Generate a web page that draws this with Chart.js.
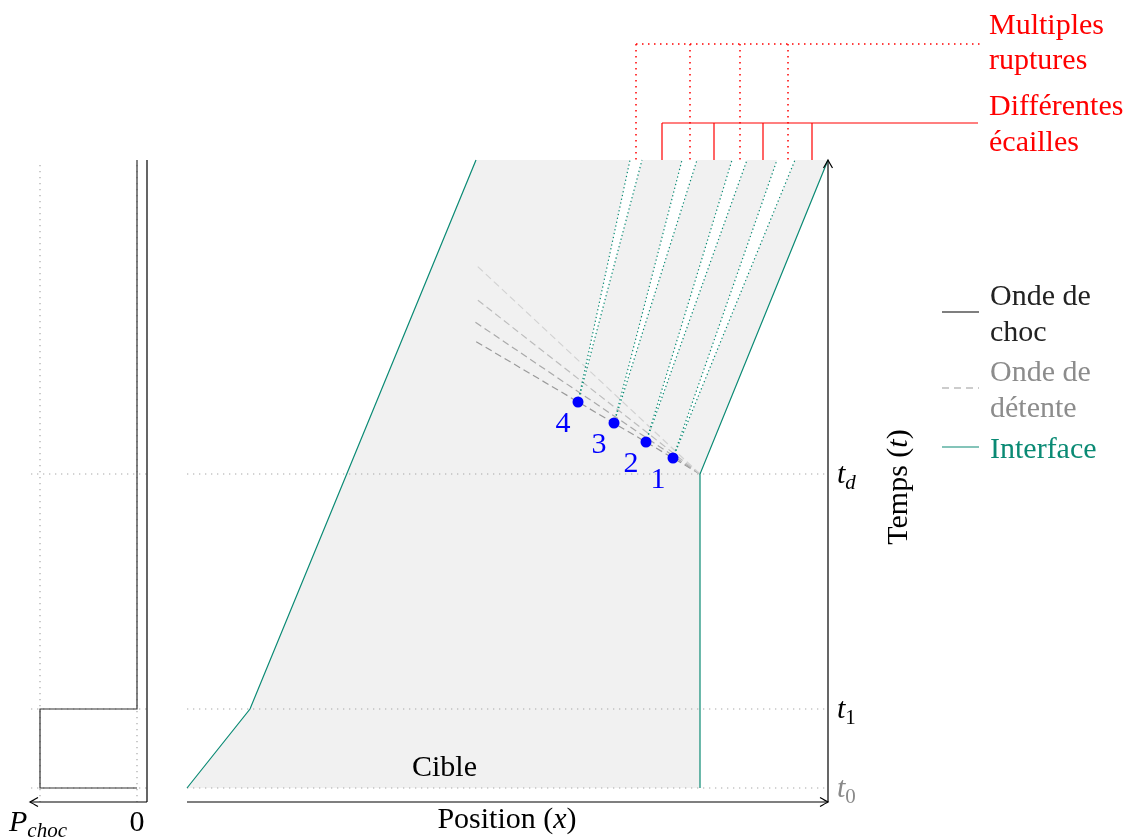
<!DOCTYPE html>
<html>
<head>
<meta charset="utf-8">
<script src="https://cdn.jsdelivr.net/npm/chart.js@4.4.1/dist/chart.umd.min.js"></script>
<style>
  html, body { margin: 0; padding: 0; background: #fff; }
  #wrap { width: 1138px; height: 839px; }
</style>
</head>
<body>
<div id="wrap"><canvas id="chart" width="1138" height="839"></canvas></div>
<script>
// temps : t0, t1, td et haut du diagramme
const tLevels = [0, 7.9, 31.4];
const tNames = ['0', '1', 'd'];
const tTop = 62.8;
const tAxis = -1.4;

// cible (bords gauche et droit)
const leftX = [0, 6.3, 28.9];
const leftT = [0, 7.9, 62.8];
const rightX = [51.3, 51.3, 64.1];
const rightT = [0, 31.4, 62.8];

// profil de pression (panneau de gauche)
const pressX = [-5.0, -5.0, -14.7, -14.7, -5.0];
const pressT = [62.8, 7.9, 7.9, 0, 0];
const pAxisX = -4.0;
const pArrowX = -15.7;

// points de rupture 1..4
const spallNames = ['1', '2', '3', '4'];
const spallX = [48.6, 45.9, 42.7, 39.1];
const spallT = [33.0, 34.6, 36.5, 38.6];

// ondes de detente (depuis le coin td)
const releaseX0 = 51.3, releaseT0 = 31.4, releaseX1 = 28.8;
const releaseT1 = [52.4, 49.0, 46.6, 44.7];
const releaseColors = ['#d2d2d2', '#bdbdbd', '#a9a9a9', '#9a9a9a'];

// fissures : bords au sommet
const crackLeftX = [59.0, 54.5, 49.5, 44.3];
const crackRightX = [60.8, 56.0, 51.0, 45.5];

// reperes rouges
const ruptureX = [44.9, 50.3, 55.3, 60.1];
const ruptureT = 74.4, ruptureEndX = 79.4;
const scaleX = [47.5, 52.7, 57.6, 62.5];
const scaleT = 66.5, scaleEndX = 79.1;

const TEAL = '#0a8a74';
const GRID = '#a8a8a8';
const RED = '#ff0000';
const BLUE = '#0000ff';

const datasets = [];
function line(xs, ts, opts) {
  datasets.push(Object.assign({
    data: xs.map((x, i) => ({ x: x, y: ts[i] })),
    showLine: true, pointRadius: 0, borderWidth: 1.2,
    borderColor: '#000', fill: false, order: 1
  }, opts));
}

// fond gris de la cible, avec les fissures decoupees dans le haut
const polyX = [...leftX], polyT = [...leftT];
for (let i = spallX.length - 1; i >= 0; i--) {
  polyX.push(crackLeftX[i], spallX[i], crackRightX[i]);
  polyT.push(tTop, spallT[i], tTop);
}
polyX.push(...rightX.slice().reverse());
polyT.push(...rightT.slice().reverse());
line(polyX, polyT, { fill: 'shape', backgroundColor: '#f1f1f1', borderColor: 'rgba(0,0,0,0)', order: 10 });

// grille pointillee
tLevels.forEach(t => {
  line([pArrowX + 0.1, pAxisX], [t, t], { borderColor: GRID, borderDash: [1.3, 4.7], order: 5 });
  line([0, rightX[2]], [t, t], { borderColor: GRID, borderDash: [1.3, 4.7], order: 5 });
});
[pressX[2], pressX[0]].forEach(x => {
  line([x, x], [tTop - 0.5, tAxis], { borderColor: GRID, borderDash: [1.3, 4.7], order: 5 });
});

// bords de fissures (interfaces)
spallX.forEach((x, i) => {
  line([x, crackLeftX[i]], [spallT[i], tTop], { borderColor: TEAL, borderDash: [1.3, 2.6], order: 3 });
  line([x, crackRightX[i]], [spallT[i], tTop], { borderColor: TEAL, borderDash: [1.3, 2.6], order: 3 });
});

// ondes de detente
releaseT1.forEach((t, i) => {
  line([releaseX0, releaseX1], [releaseT0, t], { borderColor: releaseColors[i], borderDash: [7, 4], order: 4 });
});

// interfaces de la cible
line(leftX, leftT, { borderColor: TEAL });
line(rightX, rightT, { borderColor: TEAL });

// profil de pression et axes
line(pressX, pressT, { borderColor: '#333' });
line([pAxisX, pAxisX], [tTop, tAxis], { borderColor: '#000' });
line([pAxisX, pArrowX], [tAxis, tAxis], { borderColor: '#000' });
line([0, rightX[2]], [tAxis, tAxis], { borderColor: '#000' });
line([rightX[2], rightX[2]], [tAxis, tTop], { borderColor: '#000' });

// reperes rouges
ruptureX.forEach(x => line([x, x], [ruptureT, tTop], { borderColor: RED, borderWidth: 1.5, borderDash: [1.5, 4.5] }));
line([ruptureX[0], ruptureEndX], [ruptureT, ruptureT], { borderColor: RED, borderWidth: 1.5, borderDash: [1.5, 4.5] });
scaleX.forEach(x => line([x, x], [scaleT, tTop], { borderColor: RED }));
line([scaleX[0], scaleEndX], [scaleT, scaleT], { borderColor: RED });

// points de rupture
datasets.push({
  data: spallX.map((x, i) => ({ x: x, y: spallT[i] })),
  showLine: false, pointRadius: 5.5, pointBackgroundColor: BLUE,
  pointBorderColor: BLUE, pointBorderWidth: 0, order: 0
});

const SERIF = "'Liberation Serif', 'Times New Roman', serif";
const F = (size, it) => (it ? 'italic ' : '') + size + 'px ' + SERIF;

function runs(ctx, parts, x, y, align, color) {
  let w = 0;
  parts.forEach(p => { ctx.font = p.font; p.w = ctx.measureText(p.text).width; w += p.w; });
  let cx = align === 'center' ? x - w / 2 : (align === 'right' ? x - w : x);
  ctx.textAlign = 'left';
  ctx.textBaseline = 'alphabetic';
  parts.forEach(p => {
    ctx.font = p.font;
    ctx.fillStyle = color;
    ctx.fillText(p.text, cx, y + (p.dy || 0));
    cx += p.w;
  });
}

function arrowHead(ctx, x, y, ang) {
  ctx.save();
  ctx.translate(x, y);
  ctx.rotate(ang);
  ctx.strokeStyle = '#000';
  ctx.lineWidth = 1.2;
  ctx.beginPath();
  ctx.moveTo(-8, -4.5);
  ctx.quadraticCurveTo(-2, -1, 0, 0);
  ctx.quadraticCurveTo(-2, 1, -8, 4.5);
  ctx.stroke();
  ctx.restore();
}

const labelsPlugin = {
  id: 'labels',
  afterDatasetsDraw(chart) {
    const ctx = chart.ctx;
    const X = v => chart.scales.x.getPixelForValue(v);
    const Y = v => chart.scales.y.getPixelForValue(v);
    ctx.save();

    arrowHead(ctx, X(rightX[2]), Y(tAxis), 0);
    arrowHead(ctx, X(rightX[2]), Y(tTop), -Math.PI / 2);
    arrowHead(ctx, X(pArrowX), Y(tAxis), Math.PI);

    // etiquettes des temps
    tLevels.forEach((t, i) => {
      const col = i === 0 ? '#8a8a8a' : '#000';
      runs(ctx, [
        { text: 't', font: F(30, true) },
        { text: tNames[i], font: F(21, tNames[i] === 'd'), dy: 6 }
      ], X(rightX[2]) + 9, Y(t) + 9, 'left', col);
    });

    runs(ctx, [{ text: 'Cible', font: F(30) }], X(25.75), Y(1.2), 'center', '#000');
    runs(ctx, [
      { text: 'Position (', font: F(30) },
      { text: 'x', font: F(30, true) },
      { text: ')', font: F(30) }
    ], X(32.0), Y(-4.0), 'center', '#000');
    runs(ctx, [
      { text: 'P', font: F(30, true) },
      { text: 'choc', font: F(21, true), dy: 6 }
    ], X(-17.8), Y(-4.3), 'left', '#000');
    runs(ctx, [{ text: '0', font: F(30) }], X(pressX[0]), Y(-4.3), 'center', '#000');

    // titre vertical
    ctx.save();
    ctx.translate(X(rightX[2]) + 79, Y(30.1));
    ctx.rotate(-Math.PI / 2);
    runs(ctx, [
      { text: 'Temps (', font: F(30) },
      { text: 't', font: F(30, true) },
      { text: ')', font: F(30) }
    ], 0, 0, 'center', '#000');
    ctx.restore();

    // numeros des points
    spallX.forEach((x, i) => {
      ctx.font = F(30);
      ctx.fillStyle = BLUE;
      ctx.textAlign = 'center';
      ctx.textBaseline = 'alphabetic';
      ctx.fillText(spallNames[i], X(x) - 15, Y(spallT[i]) + 30);
    });

    // textes rouges
    const tx = X(ruptureEndX) + 8;
    runs(ctx, [{ text: 'Multiples', font: F(30) }], tx, Y(ruptureT) - 10, 'left', RED);
    runs(ctx, [{ text: 'ruptures', font: F(30) }], tx, Y(ruptureT) + 25, 'left', RED);
    runs(ctx, [{ text: 'Différentes', font: F(30) }], tx, Y(scaleT) - 8, 'left', RED);
    runs(ctx, [{ text: 'écailles', font: F(30) }], tx, Y(scaleT) + 28, 'left', RED);

    // legende
    const lx0 = 942, lx1 = 979;
    const legend = [
      { y: 312, col: '#000', txt: '#222', dash: [], lines: ['Onde de', 'choc'], base: 305 },
      { y: 388, col: '#999', txt: '#8c8c8c', dash: [7, 5], lines: ['Onde de', 'détente'], base: 381 },
      { y: 447, col: TEAL, txt: TEAL, dash: [], lines: ['Interface'], base: 458 }
    ];
    legend.forEach(l => {
      ctx.save();
      ctx.strokeStyle = l.col;
      ctx.lineWidth = 1.2;
      ctx.setLineDash(l.dash);
      ctx.beginPath();
      ctx.moveTo(lx0, l.y);
      ctx.lineTo(lx1, l.y);
      ctx.stroke();
      ctx.restore();
      l.lines.forEach((s, k) => {
        runs(ctx, [{ text: s, font: F(30) }], 990, l.base + k * 36, 'left', l.txt);
      });
    });

    ctx.restore();
  }
};

new Chart(document.getElementById('chart'), {
  type: 'scatter',
  data: { datasets: datasets },
  options: {
    responsive: false,
    animation: false,
    events: [],
    layout: { padding: 0, autoPadding: false },
    scales: {
      x: { type: 'linear', min: -18.7, max: 95.1, display: false },
      y: { type: 'linear', min: -5.1, max: 78.8, display: false }
    },
    plugins: {
      legend: { display: false },
      tooltip: { enabled: false },
      filler: { propagate: false }
    }
  },
  plugins: [labelsPlugin]
});
</script>
</body>
</html>
